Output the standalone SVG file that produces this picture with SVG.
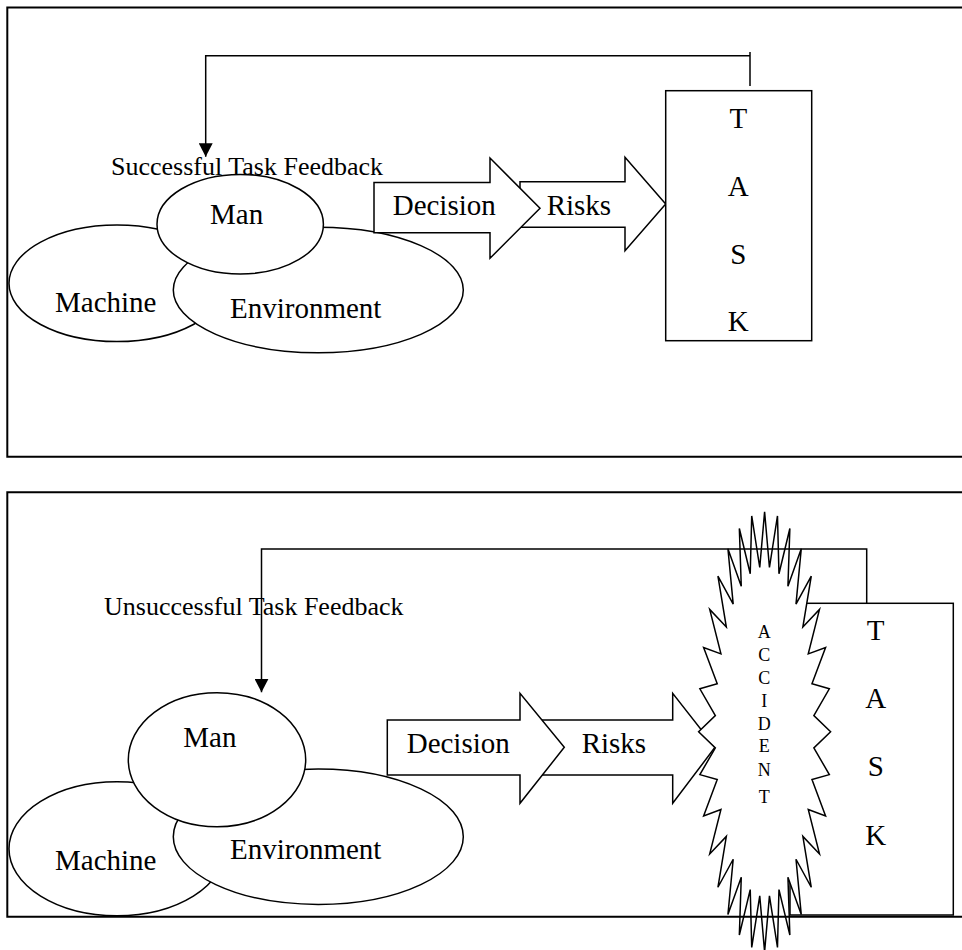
<svg xmlns="http://www.w3.org/2000/svg" width="962" height="950" viewBox="0 0 962 950">
<defs>
<style>
.frame{fill:none;stroke:#000;stroke-width:2}
.shape{fill:#fff;stroke:#000;stroke-width:1.5}
.conn{fill:none;stroke:#000;stroke-width:1.5}
text{font-family:"Liberation Serif","Times New Roman",serif;fill:#000}
.lbl{font-size:29px}
.fb{font-size:26px}
.mid{text-anchor:middle}
.acc{font-size:18px;text-anchor:middle}
</style>
<marker id="ah" viewBox="0 0 14 14" refX="13.5" refY="7" markerWidth="14" markerHeight="14" markerUnits="userSpaceOnUse" orient="auto">
<path d="M0,0 L13.5,7 L0,14 Z" fill="#000"/>
</marker>
</defs>
<rect width="962" height="950" fill="#fff"/>

<!-- ===== Top panel ===== -->
<g id="top-machine"><ellipse class="shape" cx="117" cy="283.3" rx="108" ry="58.3"/><text class="lbl" x="55" y="311.7">Machine</text></g>
<g id="top-environment"><ellipse class="shape" cx="318.3" cy="290" rx="145" ry="62.7"/><text class="lbl" x="230" y="318.3">Environment</text></g>
<g id="top-man"><ellipse class="shape" cx="240.2" cy="224.2" rx="83.2" ry="49.8"/><text class="lbl" x="210" y="223.5">Man</text></g>
<g id="top-risks"><polygon class="shape" points="520,181.7 625,181.7 625,157.3 665.7,204 625,250.7 625,227.3 520,227.3"/><text class="lbl" x="546.7" y="215">Risks</text></g>
<g id="top-decision"><polygon class="shape" points="374,182.5 490,182.5 490,158 540,208.2 490,258.3 490,232.7 374,232.7"/><text class="lbl" x="392.7" y="215">Decision</text></g>
<g id="top-task"><rect class="shape" x="665.7" y="90.7" width="146" height="250"/>
<text class="lbl mid" x="738.3" y="128.3">T</text><text class="lbl mid" x="738.3" y="196">A</text><text class="lbl mid" x="738.3" y="264.3">S</text><text class="lbl mid" x="738.3" y="331">K</text></g>

<!-- ===== Bottom panel ===== -->
<g id="bottom-machine"><ellipse class="shape" cx="117" cy="848.7" rx="108" ry="67"/><text class="lbl" x="55" y="870">Machine</text></g>
<g id="bottom-environment"><ellipse class="shape" cx="318.3" cy="836.7" rx="145" ry="67.7"/><text class="lbl" x="230" y="859">Environment</text></g>
<g id="bottom-man"><ellipse class="shape" cx="217" cy="759.7" rx="88.7" ry="67"/><text class="lbl" x="183.3" y="746.7">Man</text></g>
<g id="bottom-risks"><polygon class="shape" points="535,720 672.7,720 672.7,693.3 715,747.3 672.7,803.3 672.7,775 535,775"/><text class="lbl" x="581.7" y="753.3">Risks</text></g>
<g id="bottom-decision"><polygon class="shape" points="387.3,720 520,720 520,693.3 564.3,747.3 520,803.3 520,775 387.3,775"/><text class="lbl" x="406.7" y="753.3">Decision</text></g>
<g id="bottom-task"><rect class="shape" x="790" y="603.3" width="163.3" height="311.7"/>
<text class="lbl mid" x="875.7" y="640">T</text><text class="lbl mid" x="875.7" y="708.3">A</text><text class="lbl mid" x="875.7" y="776">S</text><text class="lbl mid" x="875.7" y="845">K</text></g>
<g id="accident">
<polygon class="shape" points="764.6,511.7 759.75,567.5 751.72,515.93 750.23,573.8 739.34,528.45 741.27,586.18 727.93,548.78 733.2,604.15 717.93,576.14 726.34,627.03 709.72,609.47 720.94,653.92 703.62,647.51 717.23,683.8 699.87,688.78 715.34,715.53 698.6,731.7 715.34,747.87 699.87,774.62 717.23,779.6 703.62,815.89 720.94,809.48 709.72,853.93 726.34,836.37 717.93,887.26 733.2,859.25 727.93,914.62 741.27,877.22 739.34,934.95 750.23,889.6 751.72,947.47 759.75,895.9 764.6,951.7 769.45,895.9 777.48,947.47 778.97,889.6 789.86,934.95 787.93,877.22 801.27,914.62 796,859.25 811.27,887.26 802.86,836.37 819.48,853.93 808.26,809.48 825.58,815.89 811.97,779.6 829.33,774.62 813.86,747.87 830.6,731.7 813.86,715.53 829.33,688.78 811.97,683.8 825.58,647.51 808.26,653.92 819.48,609.47 802.86,627.03 811.27,576.14 796,604.15 801.27,548.78 787.93,586.18 789.86,528.45 778.97,573.8 777.48,515.93 769.45,567.5"/>
<text class="acc" x="764.3" y="638.3">A</text><text class="acc" x="764.3" y="661">C</text><text class="acc" x="764.3" y="683.5">C</text><text class="acc" x="764.3" y="706.7">I</text><text class="acc" x="764.3" y="729.5">D</text><text class="acc" x="764.3" y="752.3">E</text><text class="acc" x="764.3" y="776">N</text><text class="acc" x="764.3" y="802.7">T</text>
</g>

<!-- ===== Connectors ===== -->
<g id="connectors">
<path class="conn" d="M750,52 V86"/>
<path class="conn" d="M750,55.7 H205.7 V156.7" marker-end="url(#ah)"/>
<text class="fb" x="111" y="175">Successful Task Feedback</text>
<path class="conn" d="M866.7,603.3 V549 H261.5 V692.3" marker-end="url(#ah)"/>
<text class="fb" x="104" y="615">Unsuccessful Task Feedback</text>
</g>

<!-- ===== Panel frames ===== -->
<g id="frames">
<path class="frame" d="M962,7.5 H7.3 V456.7 H962"/>
<path class="frame" d="M962,492.3 H7.3 V916.7 H962"/>
</g>
</svg>
